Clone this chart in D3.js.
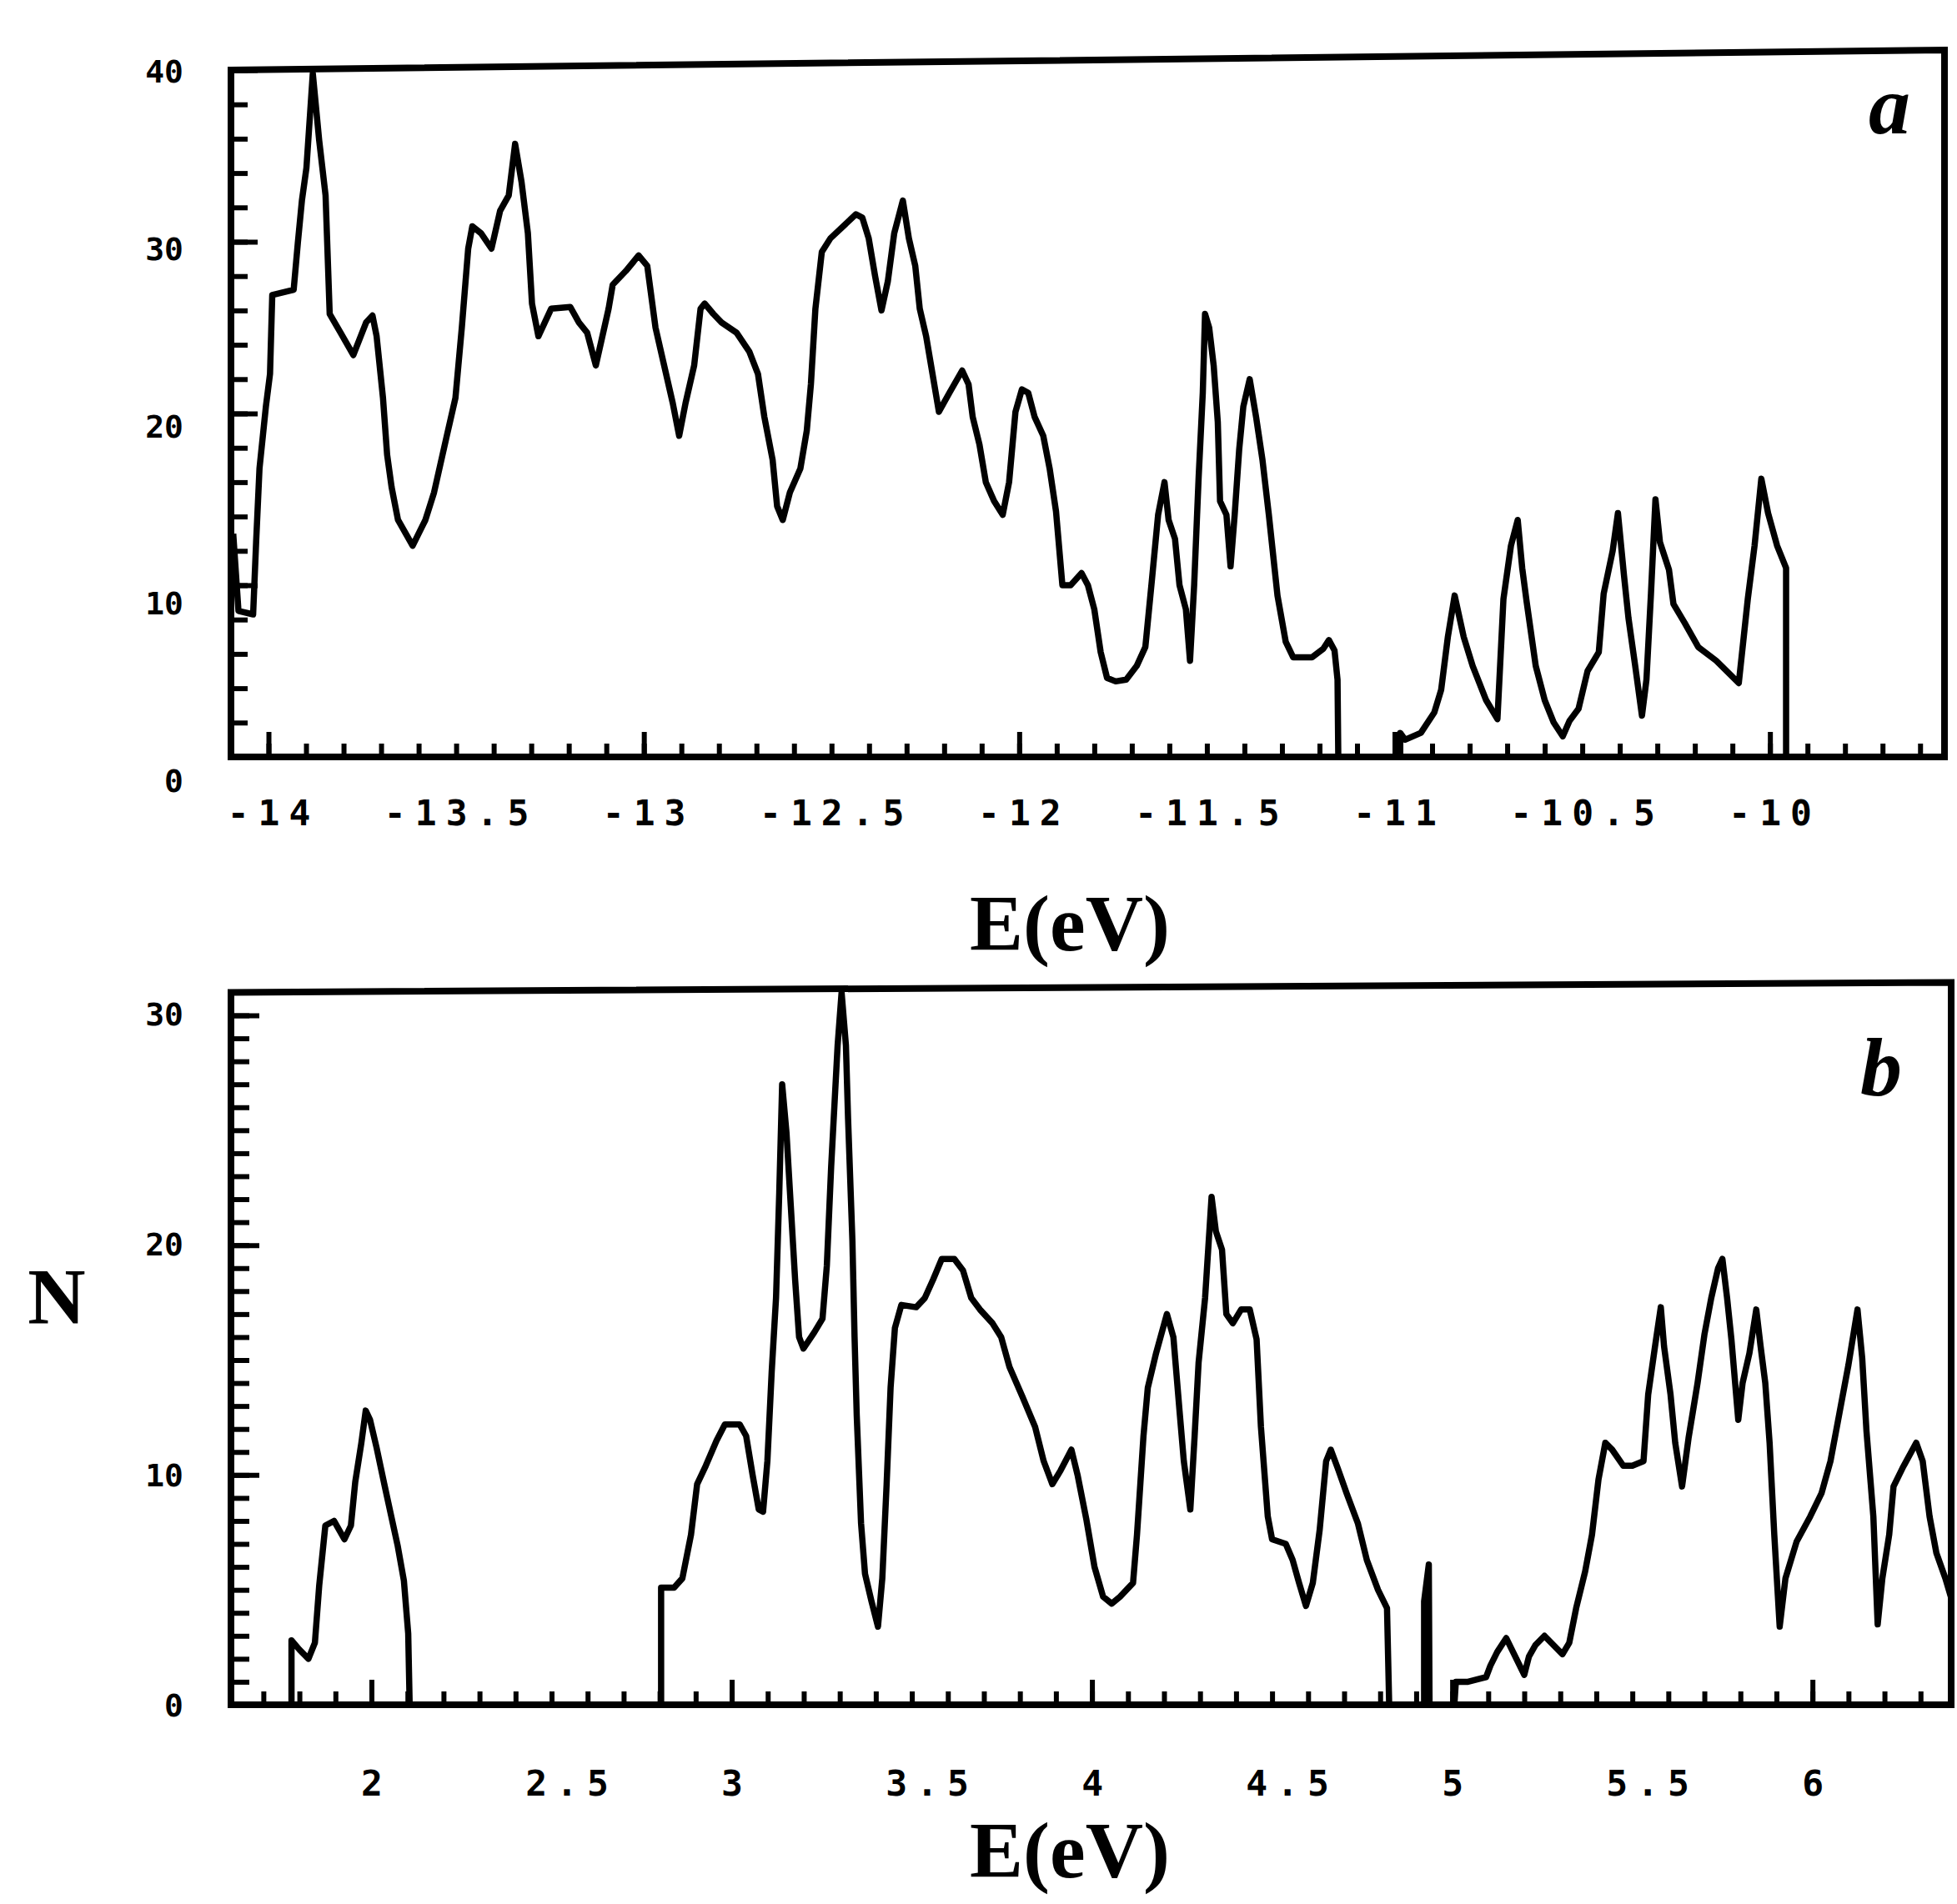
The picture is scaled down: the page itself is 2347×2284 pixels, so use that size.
<!doctype html>
<html>

<head>
    <style>
        body {
            margin: 0;
            background: #fff;
        }

        .frame {
            fill: none;
            stroke: #000;
            stroke-width: 8px;
        }

        .curve {
            fill: none;
            stroke: #000;
            stroke-width: 7.5px;
            stroke-linejoin: round;
        }

        .ticks line {
            stroke: #000;
            stroke-width: 6px;
        }

        .ticklabel {
            font-family: "DejaVu Sans Mono", monospace;
            font-weight: bold;
            font-size: 38px;
            fill: #000;
        }

        .ticklabel.xlab {
            font-size: 43px;
            letter-spacing: 11px;
        }

        .axistitle {
            font-family: "Liberation Serif", serif;
            font-weight: bold;
            font-size: 96px;
            fill: #000;
        }

        .tag {
            font-family: "Liberation Serif", serif;
            font-style: italic;
            font-weight: bold;
            font-size: 100px;
            fill: #000;
        }
    </style>
    <script src="https://d3js.org/d3.v7.min.js"></script>
</head>

<body>
    <script>
        // ---- data: [E (eV), N] ----
        const dosA1 = [
            [-14.094, 13.0], [-14.08, 8.5], [-14.041, 8.3], [-14.033, 12.5], [-14.024, 16.8], [-14.007, 20.4],
            [-13.996, 22.3], [-13.99, 26.9], [-13.933, 27.2], [-13.922, 29.9], [-13.911, 32.4], [-13.899, 34.3],
            [-13.882, 39.8], [-13.865, 35.9], [-13.848, 32.7], [-13.837, 25.8], [-13.808, 24.7], [-13.774, 23.4],
            [-13.74, 25.3], [-13.723, 25.7], [-13.712, 24.5], [-13.695, 20.9], [-13.684, 17.6], [-13.672, 15.7],
            [-13.655, 13.8], [-13.616, 12.3], [-13.582, 13.8], [-13.559, 15.4], [-13.525, 18.7], [-13.502, 20.9],
            [-13.485, 25], [-13.468, 29.6], [-13.457, 30.9], [-13.434, 30.5], [-13.406, 29.6], [-13.383, 31.8],
            [-13.36, 32.7], [-13.343, 35.7], [-13.326, 33.5], [-13.309, 30.5], [-13.298, 26.4], [-13.281, 24.5],
            [-13.247, 26.1], [-13.196, 26.2], [-13.173, 25.3], [-13.151, 24.7], [-13.128, 22.8], [-13.094, 26.1],
            [-13.083, 27.5], [-13.048, 28.3], [-13.014, 29.2], [-12.991, 28.6], [-12.969, 25], [-12.946, 22.8],
            [-12.923, 20.6], [-12.906, 18.7], [-12.889, 20.6], [-12.866, 22.8], [-12.849, 26.1], [-12.838, 26.4],
            [-12.815, 25.8], [-12.793, 25.3], [-12.753, 24.7], [-12.719, 23.6], [-12.696, 22.3], [-12.679, 19.8],
            [-12.657, 17.3], [-12.645, 14.6], [-12.63, 13.8], [-12.611, 15.4], [-12.583, 16.8], [-12.566, 19],
            [-12.555, 21.7], [-12.543, 26.1], [-12.526, 29.4], [-12.503, 30.2], [-12.469, 30.9], [-12.435, 31.6],
            [-12.418, 31.4], [-12.401, 30.2], [-12.384, 28], [-12.367, 26], [-12.35, 27.7], [-12.333, 30.5],
            [-12.31, 32.4], [-12.294, 30.2], [-12.277, 28.6], [-12.265, 26.1], [-12.248, 24.5], [-12.231, 22.3],
            [-12.214, 20.1], [-12.186, 21.2], [-12.152, 22.5], [-12.135, 21.7], [-12.124, 19.8], [-12.106, 18.2],
            [-12.089, 16], [-12.067, 14.9], [-12.044, 14.1], [-12.027, 16], [-12.01, 20.1], [-11.993, 21.4],
            [-11.976, 21.2], [-11.959, 19.8], [-11.936, 18.7], [-11.919, 16.8], [-11.902, 14.3], [-11.885, 10],
            [-11.863, 10], [-11.834, 10.7], [-11.817, 10], [-11.8, 8.6], [-11.783, 6.1], [-11.766, 4.6],
            [-11.743, 4.4], [-11.715, 4.5], [-11.687, 5.3], [-11.664, 6.4], [-11.647, 10.2], [-11.63, 14.1],
            [-11.613, 16], [-11.602, 13.8], [-11.585, 12.7], [-11.573, 10], [-11.556, 8.6], [-11.545, 5.6],
            [-11.534, 10], [-11.522, 16.3], [-11.511, 21.2], [-11.505, 25.8], [-11.494, 25], [-11.482, 22.8],
            [-11.471, 19.5], [-11.465, 14.9], [-11.448, 14.1], [-11.437, 11.1], [-11.426, 14.1], [-11.414, 17.9],
            [-11.403, 20.4], [-11.386, 22], [-11.369, 19.8], [-11.352, 17.3], [-11.335, 14.1], [-11.312, 9.4],
            [-11.29, 6.7], [-11.27, 5.8], [-11.22, 5.8], [-11.19, 6.3], [-11.175, 6.8], [-11.16, 6.2],
            [-11.152, 4.5], [-11.15, 0]
        ]
        const dosA2 = [
            [-10.985, 0], [-10.985, 1.4], [-10.972, 1.0], [-10.93, 1.4], [-10.894, 2.6], [-10.876, 3.9],
            [-10.858, 7.0], [-10.84, 9.4], [-10.816, 7.0], [-10.792, 5.3], [-10.756, 3.3], [-10.726, 2.2],
            [-10.71, 9.2], [-10.69, 12.3], [-10.672, 13.8], [-10.66, 11], [-10.648, 9], [-10.624, 5.3],
            [-10.6, 3.3], [-10.576, 2], [-10.552, 1.2], [-10.534, 2.1], [-10.51, 2.8], [-10.486, 5],
            [-10.456, 6.1], [-10.443, 9.5], [-10.419, 12], [-10.405, 14.2], [-10.389, 10.6], [-10.377, 8.1],
            [-10.359, 5.3], [-10.341, 2.4], [-10.329, 4.5], [-10.317, 9.5], [-10.305, 15.0], [-10.293, 12.5],
            [-10.269, 10.9], [-10.257, 8.9], [-10.227, 7.8], [-10.191, 6.4], [-10.143, 5.6], [-10.083, 4.3],
            [-10.059, 9.2], [-10.041, 12.3], [-10.023, 16.2], [-10.005, 14.2], [-9.981, 12.3], [-9.957, 11],
            [-9.957, 0]
        ]

        const dosB1 = [
            [1.778, 0], [1.778, 2.8], [1.8, 2.4], [1.825, 2.0], [1.843, 2.7], [1.855, 5.2], [1.872, 7.8],
            [1.896, 8.0], [1.925, 7.2], [1.943, 7.8], [1.955, 9.7], [1.972, 11.4], [1.984, 12.8], [1.996, 12.4],
            [2.014, 11.2], [2.037, 9.5], [2.055, 8.2], [2.073, 6.9], [2.09, 5.4], [2.102, 3.1], [2.106, 0]
        ]
        const dosB2 = [
            [2.804, 0], [2.804, 5.1], [2.84, 5.1], [2.863, 5.5], [2.887, 7.4], [2.904, 9.6], [2.928, 10.4],
            [2.958, 11.5], [2.981, 12.2], [3.022, 12.2], [3.04, 11.7], [3.058, 10], [3.075, 8.5], [3.087, 8.4],
            [3.099, 10.6], [3.111, 14.5], [3.123, 17.7], [3.132, 22.3], [3.14, 27], [3.152, 24.9], [3.164, 21.7],
            [3.176, 18.5], [3.187, 16], [3.199, 15.5], [3.229, 16.2], [3.252, 16.8], [3.264, 19.1], [3.276, 23.4],
            [3.294, 28.7], [3.305, 31.0], [3.317, 28.7], [3.323, 25.5], [3.335, 20.2], [3.341, 16], [3.347, 12.6],
            [3.359, 7.9], [3.37, 5.7], [3.388, 4.5], [3.406, 3.4], [3.418, 5.5], [3.43, 9.6], [3.441, 13.8],
            [3.453, 16.4], [3.471, 17.4], [3.512, 17.3], [3.536, 17.7], [3.559, 18.5], [3.583, 19.4], [3.618, 19.4],
            [3.642, 18.9], [3.665, 17.7], [3.689, 17.2], [3.724, 16.6], [3.748, 16], [3.771, 14.7], [3.807, 13.4],
            [3.842, 12.1], [3.866, 10.6], [3.89, 9.6], [3.913, 10.2], [3.943, 11.1], [3.96, 10], [3.984, 8.1],
            [4.007, 6], [4.031, 4.7], [4.055, 4.4], [4.078, 4.7], [4.114, 5.3], [4.125, 7.4], [4.143, 11.7],
            [4.155, 13.8], [4.178, 15.3], [4.208, 17], [4.226, 16], [4.243, 12.8], [4.255, 10.6], [4.273, 8.5],
            [4.285, 11.7], [4.296, 14.9], [4.314, 17.7], [4.332, 22.1], [4.344, 20.6], [4.361, 19.8], [4.373, 17],
            [4.391, 16.6], [4.414, 17.2], [4.438, 17.2], [4.457, 15.9], [4.469, 12.1], [4.488, 8.2], [4.5, 7.2],
            [4.538, 7], [4.557, 6.3], [4.575, 5.3], [4.594, 4.3], [4.613, 5.3], [4.632, 7.6], [4.65, 10.6],
            [4.663, 11.1], [4.682, 10.3], [4.707, 9.2], [4.738, 7.9], [4.763, 6.3], [4.794, 5], [4.819, 4.2],
            [4.825, 0]
        ]
        const dosB3 = [[4.922, 0], [4.922, 4.5], [4.935, 6.1], [4.937, 0]]
        const dosB4 = [
            [5.006, 0], [5.01, 1.0], [5.044, 1.0], [5.094, 1.2], [5.106, 1.7], [5.125, 2.3], [5.15, 2.9],
            [5.175, 2.1], [5.2, 1.3], [5.213, 2.1], [5.231, 2.6], [5.256, 3.0], [5.281, 2.6], [5.306, 2.2],
            [5.325, 2.7], [5.344, 4.2], [5.369, 5.8], [5.388, 7.4], [5.406, 9.8], [5.425, 11.4], [5.444, 11.1],
            [5.475, 10.4], [5.5, 10.4], [5.531, 10.6], [5.544, 13.5], [5.563, 15.6], [5.579, 17.3], [5.588, 15.6],
            [5.606, 13.5], [5.619, 11.4], [5.638, 9.5], [5.656, 11.6], [5.681, 14], [5.7, 16.1], [5.719, 17.7],
            [5.738, 19], [5.75, 19.4], [5.763, 17.7], [5.775, 15.9], [5.794, 12.4], [5.806, 14], [5.825, 15.3],
            [5.844, 17.2], [5.856, 15.6], [5.869, 14], [5.881, 11.4], [5.894, 7.4], [5.909, 3.4], [5.925, 5.5],
            [5.956, 7.1], [5.994, 8.2], [6.025, 9.2], [6.05, 10.6], [6.075, 12.7], [6.1, 14.8], [6.125, 17.2],
            [6.138, 15.1], [6.15, 11.9], [6.169, 8.2], [6.181, 3.5], [6.194, 5.5], [6.213, 7.4], [6.225, 9.5],
            [6.25, 10.3], [6.288, 11.4], [6.306, 10.6], [6.325, 8.2], [6.344, 6.6], [6.369, 5.5], [6.386, 4.6]
        ]

        // tick labels
        const xTicksA = [-14, -13.5, -13, -12.5, -12, -11.5, -11, -10.5, -10]
        const xLabelsA = ["-14", "-13.5", "-13", "-12.5", "-12", "-11.5", "-11", "-10.5", "-10"]
        const yTicksA = [0, 10, 20, 30, 40]
        const yLabelsA = ["0", "10", "20", "30", "40"]
        const xTicksB = [2, 2.5, 3, 3.5, 4, 4.5, 5, 5.5, 6]
        const xLabelsB = ["2", "2.5", "3", "3.5", "4", "4.5", "5", "5.5", "6"]
        const yTicksB = [0, 10, 20, 30]
        const yLabelsB = ["0", "10", "20", "30"]

        const W = 2347, H = 2284

        const svg = d3.select("body").append("svg")
            .attr("width", W)
            .attr("height", H)
        svg.append("rect").attr("width", W).attr("height", H).attr("fill", "#fff")

        const panels = [
            {
                x: d3.scaleLinear().domain([-14.1, -9.535]).range([277, 2332]),
                y: d3.scaleLinear().domain([0, 40]).range([908, 84]),
                // the printed labels sit on a slightly stretched grid
                yLab: d3.scaleLinear().domain([0, 40]).range([936, 85]),
                frameTop: 40, topSkew: 24,
                segments: [dosA1, dosA2],
                xMinor: d3.range(-140, -95).map(i => i / 10),
                xMajor: d3.range(-14, -9),
                yMinor: d3.range(0, 41, 2),
                yMajor: yTicksA,
                yMinorLen: 20, yMajorLen: 32,
                xTicks: xTicksA, xLabels: xLabelsA, halfShift: 0,
                yTicks: yTicksA, yLabels: yLabelsA,
                labelY: 990, titleY: 1140,
                tag: "a", tagX: 2266, tagY: 160
            },
            {
                x: d3.scaleLinear().domain([1.61, 6.385]).range([277, 2340]),
                y: d3.scaleLinear().domain([0, 30]).range([2045, 1218]),
                yLab: d3.scaleLinear().domain([0, 30]).range([2045, 1216]),
                frameTop: 31.0, topSkew: 12,
                segments: [dosB1, dosB2, dosB3, dosB4],
                xMinor: d3.range(17, 64).map(i => i / 10),
                xMajor: d3.range(2, 7),
                yMinor: d3.range(0, 31),
                yMajor: yTicksB,
                yMinorLen: 22, yMajorLen: 34,
                xTicks: xTicksB, xLabels: xLabelsB, halfShift: 18,
                yTicks: yTicksB, yLabels: yLabelsB,
                labelY: 2154, titleY: 2252,
                tag: "b", tagX: 2256, tagY: 1314
            }
        ]

        panels.forEach(p => {
            const g = svg.append("g")
            const [x0, x1] = p.x.range()
            const yb = p.y(0)
            const yt = p.y(p.frameTop)

            // ticks (inward), drawn with d3 axes
            const bottom = g.append("g").attr("class", "ticks")
                .attr("transform", `translate(0,${yb})`)
            bottom.append("g")
                .call(d3.axisBottom(p.x).tickValues(p.xMinor).tickSize(-16).tickSizeOuter(0).tickFormat(""))
                .call(s => s.select(".domain").remove())
            bottom.append("g")
                .call(d3.axisBottom(p.x).tickValues(p.xMajor).tickSize(-30).tickSizeOuter(0).tickFormat(""))
                .call(s => s.select(".domain").remove())

            const left = g.append("g").attr("class", "ticks")
                .attr("transform", `translate(${x0},0)`)
            left.append("g")
                .call(d3.axisLeft(p.y).tickValues(p.yMinor).tickSize(-p.yMinorLen).tickSizeOuter(0).tickFormat(""))
                .call(s => s.select(".domain").remove())
            left.append("g")
                .call(d3.axisLeft(p.y).tickValues(p.yMajor).tickSize(-p.yMajorLen).tickSizeOuter(0).tickFormat(""))
                .call(s => s.select(".domain").remove())

            // frame (scan is slightly tilted at the top edge)
            g.append("path")
                .attr("class", "frame")
                .attr("d", `M${x0},${yt}L${x1},${yt - p.topSkew}L${x1},${yb}L${x0},${yb}Z`)

            // curves
            const line = d3.line().x(d => p.x(d[0])).y(d => p.y(d[1]))
            g.selectAll(".curve")
                .data(p.segments)
                .enter()
                .append("path")
                .attr("class", "curve")
                .attr("d", line)

            // x tick labels
            g.selectAll(".xl")
                .data(p.xTicks)
                .enter()
                .append("text")
                .attr("class", "ticklabel xlab")
                .attr("text-anchor", "middle")
                .attr("x", d => p.x(d) + (Number.isInteger(d) ? 6 : 6 + p.halfShift))
                .attr("y", p.labelY)
                .text((d, i) => p.xLabels[i])

            // y tick labels
            g.selectAll(".yl")
                .data(p.yTicks)
                .enter()
                .append("text")
                .attr("class", "ticklabel")
                .attr("text-anchor", "end")
                .attr("x", 220)
                .attr("y", d => p.yLab(d) + 14)
                .text((d, i) => p.yLabels[i])

            g.append("text")
                .attr("class", "axistitle")
                .attr("text-anchor", "middle")
                .attr("x", 1283)
                .attr("y", p.titleY)
                .text("E(eV)")

            g.append("text")
                .attr("class", "tag")
                .attr("text-anchor", "middle")
                .attr("x", p.tagX)
                .attr("y", p.tagY)
                .text(p.tag)
        })

        // y-axis title for the figure
        svg.append("text")
            .attr("class", "axistitle")
            .attr("text-anchor", "middle")
            .attr("x", 68)
            .attr("y", 1588)
            .text("N")
    </script>
</body>

</html>
